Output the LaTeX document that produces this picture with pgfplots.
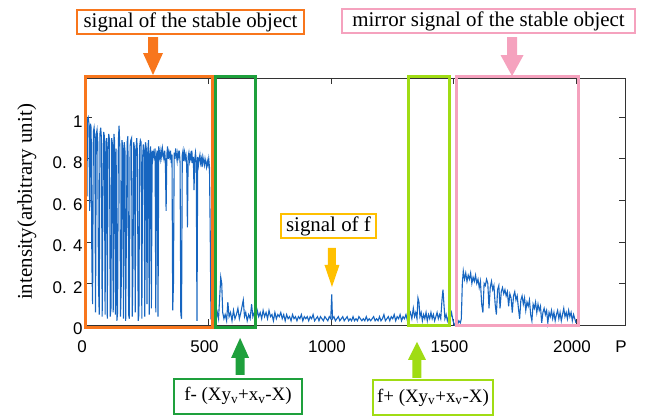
\documentclass[border=0pt]{standalone}
\usepackage{fontspec}
\setmainfont{Liberation Serif}
\newfontfamily\ticksf{Liberation Sans}
\usepackage{pgfplots}
\usepackage{pgfplotstable}
\pgfplotsset{compat=1.18}

\definecolor{sigblue}{RGB}{22,101,192}
\definecolor{stableC}{RGB}{248,118,28}
\definecolor{mirrorC}{RGB}{245,162,190}
\definecolor{fC}{RGB}{255,192,0}
\definecolor{fminusC}{RGB}{30,160,60}
\definecolor{fplusC}{RGB}{160,220,20}

% intensity profile along P
\pgfplotstableread{
x y
4 0.62
6 0.99
9 1.00
12 0.97
15 0.55
18 0.97
21 0.95
24 0.30
27 0.10
30 0.93
33 0.95
36 0.90
39 0.06
42 0.92
45 0.94
48 0.88
51 0.20
54 0.05
57 0.92
60 0.95
63 0.90
66 0.04
69 0.60
72 0.93
75 0.91
78 0.05
81 0.88
84 0.90
87 0.03
90 0.86
93 0.92
96 0.89
99 0.04
102 0.08
105 0.90
108 0.87
111 0.06
114 0.92
117 0.88
120 0.05
123 0.85
126 0.02
129 0.06
132 0.88
135 0.96
138 0.86
141 0.04
144 0.20
147 0.89
150 0.85
153 0.03
156 0.88
159 0.84
162 0.02
165 0.45
168 0.88
171 0.91
174 0.05
177 0.03
180 0.86
183 0.89
186 0.90
189 0.04
192 0.30
195 0.88
198 0.85
201 0.06
204 0.84
207 0.90
210 0.83
213 0.02
216 0.05
219 0.86
222 0.89
225 0.88
228 0.03
231 0.80
234 0.87
237 0.84
240 0.04
243 0.88
246 0.85
249 0.10
252 0.83
255 0.89
258 0.05
261 0.82
264 0.86
267 0.08
270 0.84
273 0.80
276 0.83
279 0.81
282 0.85
285 0.06
288 0.82
291 0.84
294 0.04
297 0.86
300 0.83
303 0.80
306 0.84
309 0.81
312 0.85
315 0.82
318 0.80
321 0.84
324 0.79
327 0.55
330 0.82
333 0.86
336 0.80
339 0.83
342 0.81
345 0.84
348 0.78
351 0.82
354 0.07
357 0.20
360 0.83
363 0.80
366 0.85
369 0.82
372 0.79
375 0.83
378 0.81
381 0.84
384 0.78
387 0.05
390 0.03
393 0.82
396 0.84
399 0.79
402 0.83
405 0.80
408 0.82
411 0.78
414 0.47
417 0.81
420 0.83
423 0.79
426 0.82
429 0.80
432 0.84
435 0.78
438 0.81
441 0.65
444 0.80
447 0.83
450 0.79
453 0.02
456 0.81
459 0.77
462 0.80
465 0.82
468 0.78
471 0.80
474 0.76
477 0.81
480 0.79
483 0.77
486 0.80
489 0.78
492 0.76
495 0.79
498 0.77
501 0.80
504 0.76
507 0.45
510 0.03
513 0.03
518 0.01
524 0.04
530 0.02
536 0.06
541 0.03
546 0.14
550 0.23
554 0.20
558 0.06
563 0.03
568 0.05
574 0.02
579 0.11
584 0.04
590 0.06
596 0.02
602 0.07
608 0.03
614 0.05
620 0.08
626 0.03
632 0.06
637 0.09
642 0.12
647 0.04
652 0.06
658 0.02
664 0.05
670 0.03
676 0.10
681 0.04
687 0.06
693 0.02
699 0.07
705 0.04
711 0.06
717 0.03
723 0.07
729 0.04
735 0.06
741 0.03
747 0.07
753 0.04
759 0.05
765 0.02
771 0.06
777 0.03
783 0.05
789 0.04
795 0.06
801 0.03
807 0.05
813 0.02
819 0.05
825 0.03
831 0.04
837 0.02
843 0.05
849 0.03
855 0.04
861 0.02
867 0.04
873 0.03
879 0.05
885 0.02
891 0.04
897 0.03
903 0.04
909 0.02
915 0.04
921 0.03
927 0.05
933 0.02
939 0.03
945 0.04
951 0.02
957 0.04
963 0.03
969 0.02
975 0.04
981 0.03
987 0.02
993 0.04
999 0.03
1003 0.147
1006 0.03
1012 0.04
1018 0.02
1024 0.03
1030 0.04
1036 0.02
1042 0.03
1048 0.04
1054 0.02
1060 0.03
1066 0.04
1072 0.02
1078 0.03
1084 0.02
1090 0.04
1096 0.02
1102 0.03
1108 0.02
1114 0.04
1120 0.03
1126 0.02
1132 0.03
1138 0.02
1144 0.04
1150 0.02
1156 0.03
1162 0.02
1168 0.03
1174 0.04
1180 0.02
1186 0.03
1192 0.02
1198 0.04
1204 0.02
1210 0.03
1216 0.05
1222 0.02
1228 0.03
1234 0.04
1240 0.02
1246 0.04
1252 0.03
1258 0.05
1264 0.02
1270 0.04
1276 0.03
1282 0.05
1288 0.02
1294 0.04
1300 0.03
1306 0.05
1312 0.02
1318 0.04
1324 0.06
1330 0.03
1336 0.08
1341 0.04
1346 0.06
1351 0.03
1355 0.13
1359 0.11
1363 0.04
1368 0.06
1373 0.02
1378 0.05
1383 0.03
1388 0.06
1393 0.02
1398 0.05
1403 0.03
1408 0.06
1413 0.03
1418 0.05
1423 0.02
1428 0.04
1433 0.06
1438 0.03
1443 0.05
1448 0.03
1453 0.12
1457 0.17
1461 0.10
1465 0.03
1470 0.05
1475 0.02
1480 0.04
1486 0.03
1492 0.06
1498 0.02
1504 0.00
1510 0.01
1516 0.00
1522 0.02
1528 0.01
1532 0.03
1536 0.20
1540 0.26
1545 0.22
1550 0.25
1555 0.21
1560 0.24
1565 0.22
1570 0.25
1575 0.20
1580 0.23
1585 0.21
1590 0.24
1595 0.20
1600 0.22
1605 0.18
1610 0.21
1615 0.10
1620 0.06
1625 0.20
1630 0.19
1635 0.22
1640 0.20
1645 0.08
1650 0.18
1655 0.21
1660 0.17
1665 0.19
1670 0.10
1675 0.05
1680 0.17
1685 0.19
1690 0.08
1695 0.16
1700 0.18
1705 0.15
1710 0.17
1715 0.14
1720 0.16
1725 0.09
1730 0.15
1735 0.13
1740 0.06
1745 0.14
1750 0.16
1755 0.12
1760 0.14
1765 0.08
1770 0.03
1775 0.12
1780 0.14
1785 0.10
1790 0.13
1795 0.07
1800 0.11
1805 0.09
1810 0.12
1815 0.05
1820 0.02
1825 0.10
1830 0.08
1835 0.11
1840 0.06
1845 0.10
1850 0.07
1855 0.09
1860 0.01
1865 0.06
1870 0.08
1875 0.05
1880 0.07
1885 0.01
1890 0.06
1895 0.04
1900 0.07
1905 0.03
1910 0.06
1915 0.02
1920 0.05
1925 0.07
1930 0.03
1935 0.06
1940 0.02
1945 0.05
1950 0.08
1955 0.04
1960 0.06
1965 0.03
1970 0.07
1975 0.04
1980 0.06
1985 0.02
1990 0.05
1995 0.03
2000 0.01
}\signal

\begin{document}
\begin{tikzpicture}
\begin{axis}[
  width=539bp, height=247bp, scale only axis,
  xmin=0, xmax=2200, ymin=0, ymax=1.19,
  xtick={0,500,1000,1500,2000,2200},
  xticklabels={0,500,1000,1500,2000,P},
  ytick={0,0.2,0.4,0.6,0.8,1},
  yticklabels={0,0. 2,0. 4,0. 6,0. 8,1},
  tick label style={font=\ticksf\fontsize{17}{17}\selectfont},
  xticklabel style={yshift=-12bp, xshift=-4bp},
  yticklabel style={yshift=-4bp},
  tick align=inside, major tick length=6bp,
  axis line style={draw=black!80, line width=0.8bp},
  tick style={draw=black!80, line width=0.8bp},
  ylabel={intensity(arbitrary unit)},
  ylabel style={font=\fontsize{21}{21}\selectfont, at={(axis description cs:-0.1095,0.498)}, anchor=center},
  clip=false,
]
\addplot[sigblue, line width=1.1bp, mark=none] table[x=x, y=y] {\signal};

% regions
\draw[stableC, line width=3bp] (axis cs:-4,-0.01) rectangle (axis cs:518,1.199);
\draw[fminusC, line width=3bp] (axis cs:530,-0.01) rectangle (axis cs:690,1.195);
\draw[fplusC, line width=3bp] (axis cs:1318,-0.005) rectangle (axis cs:1482,1.195);
\draw[mirrorC, line width=3bp] (axis cs:1514,-0.005) rectangle (axis cs:2012,1.195);

% arrows
\fill[stableC] (axis cs:273.5,1.204) -- ++(-10bp,22bp) -- ++(5bp,0bp) -- ++(0bp,16bp) -- ++(10bp,0bp) -- ++(0bp,-16bp) -- ++(5bp,0bp) -- cycle;
\fill[mirrorC] (axis cs:1739,1.199) -- ++(-11.5bp,21bp) -- ++(6.5bp,0bp) -- ++(0bp,18bp) -- ++(10bp,0bp) -- ++(0bp,-18bp) -- ++(6.5bp,0bp) -- cycle;
\fill[fC] (axis cs:1004,0.183) -- ++(-7.5bp,22bp) -- ++(3.5bp,0bp) -- ++(0bp,17bp) -- ++(8bp,0bp) -- ++(0bp,-17bp) -- ++(3.5bp,0bp) -- cycle;
\fill[fminusC] (axis cs:629,-0.0626) -- ++(-9bp,-20bp) -- ++(4.5bp,0bp) -- ++(0bp,-17bp) -- ++(9bp,0bp) -- ++(0bp,17bp) -- ++(4.5bp,0bp) -- cycle;
\fill[fplusC] (axis cs:1351,-0.0819) -- ++(-9bp,-18bp) -- ++(4.5bp,0bp) -- ++(0bp,-18bp) -- ++(9bp,0bp) -- ++(0bp,18bp) -- ++(4.5bp,0bp) -- cycle;

% labels
\node[draw=stableC, line width=2.5bp, fill=white, minimum width=227bp, minimum height=24bp, inner sep=0pt, font=\fontsize{21}{21}\selectfont]
  at (axis cs:426.5,1.4595) {signal of the stable object};
\node[draw=mirrorC, line width=2.5bp, fill=white, minimum width=293bp, minimum height=24bp, inner sep=0pt, font=\fontsize{21}{21}\selectfont]
  at (axis cs:1642.9,1.464) {mirror signal of the stable object};
\node[draw=fC, line width=2.5bp, fill=white, minimum width=95bp, minimum height=24bp, inner sep=0pt, font=\fontsize{21}{21}\selectfont]
  at (axis cs:989.8,0.4769) {signal of f};
\node[draw=fminusC, line width=2.5bp, fill=white, minimum width=128bp, minimum height=35bp, inner sep=0pt, font=\fontsize{19}{19}\selectfont]
  at (axis cs:620.4,-0.344) {f- (Xy\textsubscript{v}+x\textsubscript{v}-X)};
\node[draw=fplusC, line width=2.5bp, fill=white, minimum width=120bp, minimum height=35bp, inner sep=0pt, font=\fontsize{19}{19}\selectfont]
  at (axis cs:1416.3,-0.349) {f+ (Xy\textsubscript{v}+x\textsubscript{v}-X)};

\coordinate (bbsw) at (axis cs:-351,-0.4432);
\coordinate (bbne) at (axis cs:2293.9,1.5655);
\end{axis}
\pgfresetboundingbox
\path[use as bounding box] (bbsw) rectangle (bbne);
\end{tikzpicture}
\end{document}
